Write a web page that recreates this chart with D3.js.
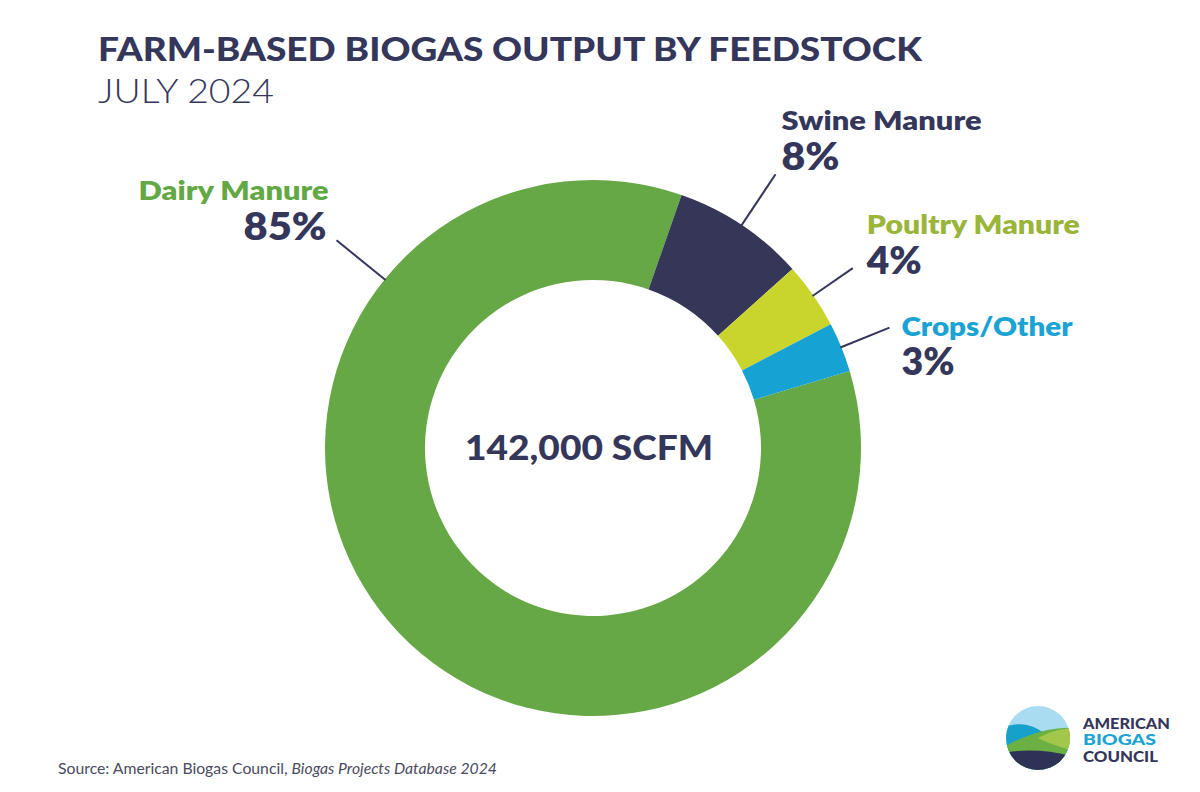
<!DOCTYPE html>
<html>
<head>
<meta charset="utf-8">
<script src="https://cdn.jsdelivr.net/npm/d3@7"></script>
<style>
  html, body { margin: 0; padding: 0; background: #ffffff; }
  svg { display: block; }
  text { font-family: Lato, "Open Sans", sans-serif; }
</style>
</head>
<body>
<svg id="chart" width="1200" height="792"></svg>
<script>
// ---- data ----
const categories = ["Dairy Manure", "Swine Manure", "Poultry Manure", "Crops/Other"];
const shares = [85, 8, 4, 3];
const shareLabels = ["85%", "8%", "4%", "3%"];
const totalLabel = "142,000 SCFM";
const titleText = "FARM-BASED BIOGAS OUTPUT BY FEEDSTOCK";
const subtitleText = "JULY 2024";
const sourcePlain = "Source: American Biogas Council, ";
const sourceItalic = "Biogas Projects Database 2024";

// ---- style ----
const navy = "#34365a";
const sliceColors = ["#65a845", "#363658", "#c9d52c", "#16a2d2"];
const nameColors = ["#62a844", "#34365a", "#9bb53b", "#1aa3d3"];

const W = 1200, H = 792;
const cx = 593, cy = 448, R = 268, r0 = 168;
const startDeg = 73.3;

// label layout: leader angle override (deg, null = slice middle), leader length, text offsets, text widths
const labelLayout = [
  { angle: 309, len: 62, anchor: "end",   nameDx: -8,  nameDy: -40, pctDx: -10, pctDy: 0,  nameW: 190, pctW: 83 },
  { angle: null, len: 61, anchor: "start", nameDx: 6,   nameDy: -44, pctDx: 6,   pctDy: -4, nameW: 200, pctW: 58 },
  { angle: null, len: 48, anchor: "start", nameDx: 14,  nameDy: -34, pctDx: 14,  pctDy: 6,  nameW: 213, pctW: 55 },
  { angle: null, len: 52, anchor: "start", nameDx: 12,  nameDy: 8,   pctDx: 12,  pctDy: 47, nameW: 171, pctW: 53 }
];

const svg = d3.select("#chart");
svg.append("rect").attr("width", W).attr("height", H).attr("fill", "#fff");

// title
svg.append("text").attr("x", 98).attr("y", 61)
  .attr("font-size", 33).attr("font-weight", 900).attr("fill", navy)
  .attr("textLength", 824).attr("lengthAdjust", "spacingAndGlyphs")
  .text(titleText);
svg.append("text").attr("x", 98).attr("y", 103)
  .attr("font-size", 33).attr("font-weight", 300).attr("fill", navy)
  .attr("textLength", 176).attr("lengthAdjust", "spacingAndGlyphs")
  .text(subtitleText);

// donut
const a0 = startDeg * Math.PI / 180;
const pie = d3.pie().sort(null).value(d => d).startAngle(a0).endAngle(a0 + 2 * Math.PI);
const arcs = pie(shares);
const arc = d3.arc().innerRadius(r0).outerRadius(R);

const g = svg.append("g").attr("transform", `translate(${cx},${cy})`);
g.selectAll("path.slice").data(arcs).join("path")
  .attr("class", "slice")
  .attr("d", arc)
  .attr("fill", (d, i) => sliceColors[i]);

// leaders + labels
const pt = (a, rad) => [rad * Math.sin(a), -rad * Math.cos(a)];
arcs.forEach((d, i) => {
  const L = labelLayout[i];
  const a = L.angle != null ? L.angle * Math.PI / 180 : (d.startAngle + d.endAngle) / 2;
  const p1 = pt(a, R - 1);
  const p2 = pt(a, R + L.len);
  g.append("line")
    .attr("x1", p1[0]).attr("y1", p1[1]).attr("x2", p2[0]).attr("y2", p2[1])
    .attr("stroke", navy).attr("stroke-width", 2);
  g.append("text")
    .attr("x", p2[0] + L.nameDx).attr("y", p2[1] + L.nameDy)
    .attr("text-anchor", L.anchor)
    .attr("font-size", 26).attr("font-weight", 800)
    .attr("fill", nameColors[i])
    .attr("textLength", L.nameW).attr("lengthAdjust", "spacingAndGlyphs")
    .text(categories[i]);
  g.append("text")
    .attr("x", p2[0] + L.pctDx).attr("y", p2[1] + L.pctDy)
    .attr("text-anchor", L.anchor)
    .attr("font-size", 37).attr("font-weight", 800)
    .attr("fill", navy)
    .attr("textLength", L.pctW).attr("lengthAdjust", "spacingAndGlyphs")
    .text(shareLabels[i]);
});

// center total
g.append("text").attr("x", -4).attr("y", 12)
  .attr("text-anchor", "middle")
  .attr("font-size", 34).attr("font-weight", 900).attr("fill", navy)
  .attr("textLength", 248).attr("lengthAdjust", "spacingAndGlyphs")
  .text(totalLabel);

// source
const src = svg.append("text").attr("x", 58).attr("y", 774)
  .attr("font-size", 15).attr("fill", "#4a4b60")
  .attr("textLength", 439).attr("lengthAdjust", "spacingAndGlyphs");
src.append("tspan").text(sourcePlain);
src.append("tspan").attr("font-style", "italic").text(sourceItalic);

// logo
const lg = svg.append("g").attr("transform", "translate(1038,738)");
const defs = svg.append("defs");
defs.append("clipPath").attr("id", "logoClip")
  .append("circle").attr("r", 32);
const lc = lg.append("g").attr("clip-path", "url(#logoClip)");
lc.append("rect").attr("x", -40).attr("y", -40).attr("width", 80).attr("height", 80).attr("fill", "#a9dcf1");
lc.append("path").attr("d", "M-40,-8 C-20,-18 -5,-14 10,-2 L40,20 L40,40 L-40,40 Z").attr("fill", "#15a1c9");
lc.append("path").attr("d", "M-40,12 C-15,-2 10,-12 40,-10 L40,40 L-40,40 Z").attr("fill", "#6cb044");
lc.append("path").attr("d", "M0,0 C15,-8 28,-10 40,-10 L40,14 C25,10 12,6 0,0 Z").attr("fill", "#a3c74b");
lc.append("path").attr("d", "M-40,16 C-15,10 15,12 40,20 L40,40 L-40,40 Z").attr("fill", "#2f3257");
const logoText = [["AMERICAN", navy, -9, 87], ["BIOGAS", "#1aa3d3", 7, 73], ["COUNCIL", navy, 24, 75]];
logoText.forEach(([t, c, y, w]) => {
  lg.append("text").attr("x", 45).attr("y", y)
    .attr("font-size", 15.5).attr("font-weight", 900).attr("fill", c)
    .attr("textLength", w).attr("lengthAdjust", "spacingAndGlyphs")
    .text(t);
});
</script>
</body>
</html>
